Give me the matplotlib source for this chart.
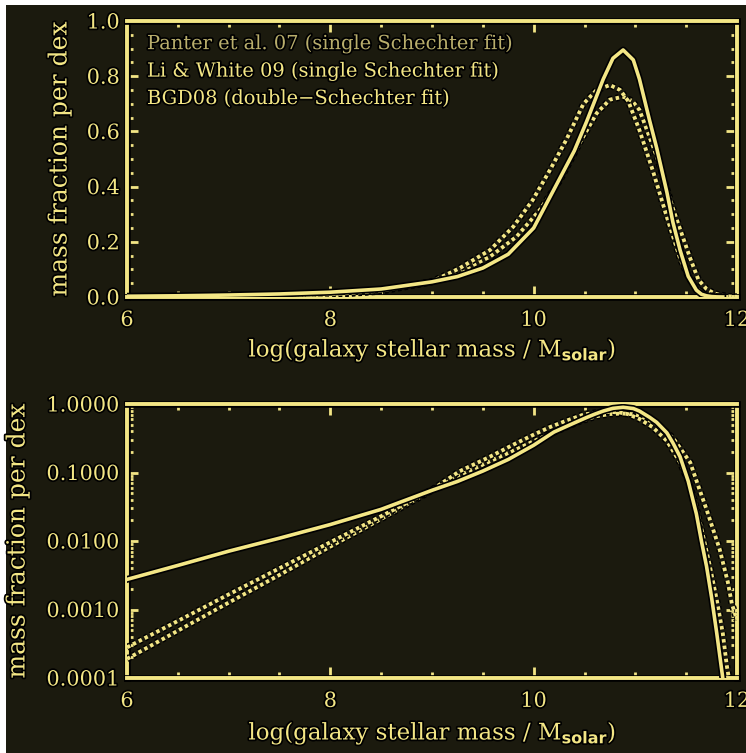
import matplotlib
matplotlib.use("Agg")
import matplotlib.pyplot as plt
import matplotlib.patheffects as pe
from matplotlib.patches import Rectangle
from matplotlib.ticker import MultipleLocator, FixedLocator, LogLocator, NullFormatter

# ---- data ----
li_x = [6.0, 6.5, 7.0, 7.5, 8.0, 8.5, 9.0, 9.25, 9.5, 9.75, 10.0, 10.2, 10.4, 10.52,
        10.6, 10.685, 10.78, 10.88, 10.98, 11.04, 11.14, 11.21, 11.31, 11.37, 11.44,
        11.52, 11.6, 11.65, 11.7, 11.75, 11.8, 11.86]
li_y = [0.00275, 0.0044, 0.0071, 0.011, 0.0174, 0.029, 0.055, 0.074, 0.105, 0.155,
        0.25, 0.39, 0.53, 0.635, 0.71, 0.79, 0.865, 0.895, 0.859, 0.79, 0.64, 0.54,
        0.38, 0.27, 0.17, 0.075, 0.025, 0.01, 0.0043, 0.0015, 0.00046, 0.0001]

bgd_x = [6.0, 6.5, 7.0, 7.5, 8.0, 8.5, 9.0, 9.27, 9.57, 9.8, 9.99, 10.16, 10.32, 10.49,
         10.62, 10.75, 10.85, 10.93, 11.04, 11.17, 11.31, 11.44, 11.52, 11.58, 11.66,
         11.73, 11.8, 11.86, 11.9, 11.92]
bgd_y = [0.00028, 0.00068, 0.00166, 0.004, 0.0096, 0.023, 0.056, 0.104, 0.17, 0.255,
         0.351, 0.46, 0.569, 0.70, 0.75, 0.768, 0.75, 0.71, 0.605, 0.46, 0.29, 0.14,
         0.075, 0.04, 0.013, 0.0045, 0.0014, 0.00045, 0.00015, 0.0001]

pan_x = [6.0, 6.5, 7.0, 7.5, 8.0, 8.5, 9.0, 9.24, 9.57, 9.83, 10.06, 10.26, 10.45, 10.62,
         10.75, 10.88, 10.97, 11.04, 11.21, 11.37, 11.54, 11.62, 11.7, 11.77, 11.83,
         11.91, 11.95, 12.0]
pan_y = [0.00019, 0.00049, 0.00126, 0.0032, 0.0083, 0.021, 0.055, 0.086, 0.146, 0.218,
         0.315, 0.424, 0.557, 0.666, 0.715, 0.726, 0.71, 0.678, 0.51, 0.32, 0.14, 0.063,
         0.029, 0.014, 0.0075, 0.0025, 0.0012, 0.0007]

labels = ["Panter et al. 07 (single Schechter fit)",
          "Li & White 09 (single Schechter fit)",
          "BGD08 (double\u2212Schechter fit)"]

xlabel = r"log(galaxy stellar mass / M$_{\mathsf{\mathbf{solar}}}$)"
ylabel = "mass fraction per dex"
top_yticks = [0.0, 0.2, 0.4, 0.6, 0.8, 1.0]
top_yticklabels = ["0.0", "0.2", "0.4", "0.6", "0.8", "1.0"]
log_yticks = [1e-4, 1e-3, 1e-2, 1e-1, 1.0]
log_yticklabels = ["0.0001", "0.0010", "0.0100", "0.1000", "1.0000"]
xticks = [6, 8, 10, 12]

# ---- style ----
BG = "#1b1a0e"
YEL = "#f3e685"
DIM = "#b9ae6c"
plt.rcParams["font.family"] = ["DejaVu Serif"]
plt.rcParams["mathtext.fontset"] = "dejavusans"

outline = [pe.withStroke(linewidth=5.0, foreground="black")]
text_outline = [pe.withStroke(linewidth=2.5, foreground="black")]

W, H = 746, 753
fig = plt.figure(figsize=(W / 100, H / 100), dpi=100, facecolor=BG)
fig.patches.append(Rectangle((0, 1 - 5 / H), 1, 5 / H, transform=fig.transFigure,
                             facecolor="white", edgecolor="none", zorder=-1))
fig.patches.append(Rectangle((0, 0), 6 / W, 1, transform=fig.transFigure,
                             facecolor="white", edgecolor="none", zorder=-1))

ax1 = fig.add_axes([127 / W, 1 - 297 / H, 610 / W, 276 / H])
ax2 = fig.add_axes([127 / W, 1 - 678 / H, 610 / W, 274 / H])


def style(ax, ylab_x, xlab_y):
    ax.set_facecolor(BG)
    for s in ax.spines.values():
        s.set_color(YEL)
        s.set_linewidth(2.8)
        s.set_path_effects([pe.withStroke(linewidth=4.8, foreground="black")])
    ax.tick_params(which="both", direction="in", top=True, right=True, colors=YEL,
                   labelsize=15)
    ax.tick_params(axis="x", pad=10)
    ax.tick_params(axis="y", pad=5)
    ax.tick_params(which="major", length=8, width=2)
    ax.tick_params(which="minor", length=4, width=2)
    ax.set_xlim(6, 12)
    ax.xaxis.set_major_locator(FixedLocator(xticks))
    ax.xaxis.set_minor_locator(MultipleLocator(0.5))
    for lab in ax.get_xticklabels() + ax.get_yticklabels():
        lab.set_path_effects(text_outline)
    ax.set_xlabel(xlabel, color=YEL, fontsize=16.5, path_effects=text_outline)
    ax.xaxis.label.set_va("center")
    ax.xaxis.set_label_coords(0.5, xlab_y)
    ax.set_ylabel(ylabel, color=YEL, fontsize=18, path_effects=text_outline)
    ax.yaxis.label.set_va("center")
    ax.yaxis.set_label_coords(ylab_x, 0.5)


def draw(ax):
    ax.plot(pan_x, pan_y, color=YEL, lw=2.8, ls=(0, (0.9, 0.8)),
            path_effects=outline, zorder=3)
    ax.plot(bgd_x, bgd_y, color=YEL, lw=2.8, ls=(0, (0.9, 0.8)),
            path_effects=outline, zorder=3)
    ax.plot(li_x, li_y, color=YEL, lw=2.6, ls="-", path_effects=outline, zorder=4)


draw(ax1)
ax1.set_ylim(0, 1.0)
ax1.set_yticks(top_yticks)
ax1.set_yticklabels(top_yticklabels)
ax1.yaxis.set_minor_locator(MultipleLocator(0.05))
style(ax1, (60 - 127) / 610, -(350 - 297) / 276)

for i, (lab, col) in enumerate(zip(labels, [DIM, YEL, YEL])):
    fig.text(147 / W, 1 - (44 + 27.5 * i) / H, lab, color=col, fontsize=14,
             va="center", ha="left", path_effects=text_outline)

draw(ax2)
ax2.set_yscale("log")
ax2.set_ylim(1e-4, 1.0)
ax2.yaxis.set_major_locator(FixedLocator(log_yticks))
ax2.set_yticklabels(log_yticklabels)
ax2.yaxis.set_minor_locator(LogLocator(base=10, subs=range(2, 10)))
ax2.yaxis.set_minor_formatter(NullFormatter())
style(ax2, (18 - 127) / 610, -(733 - 678) / 274)

fig.savefig("out.png", dpi=100, facecolor=BG)
